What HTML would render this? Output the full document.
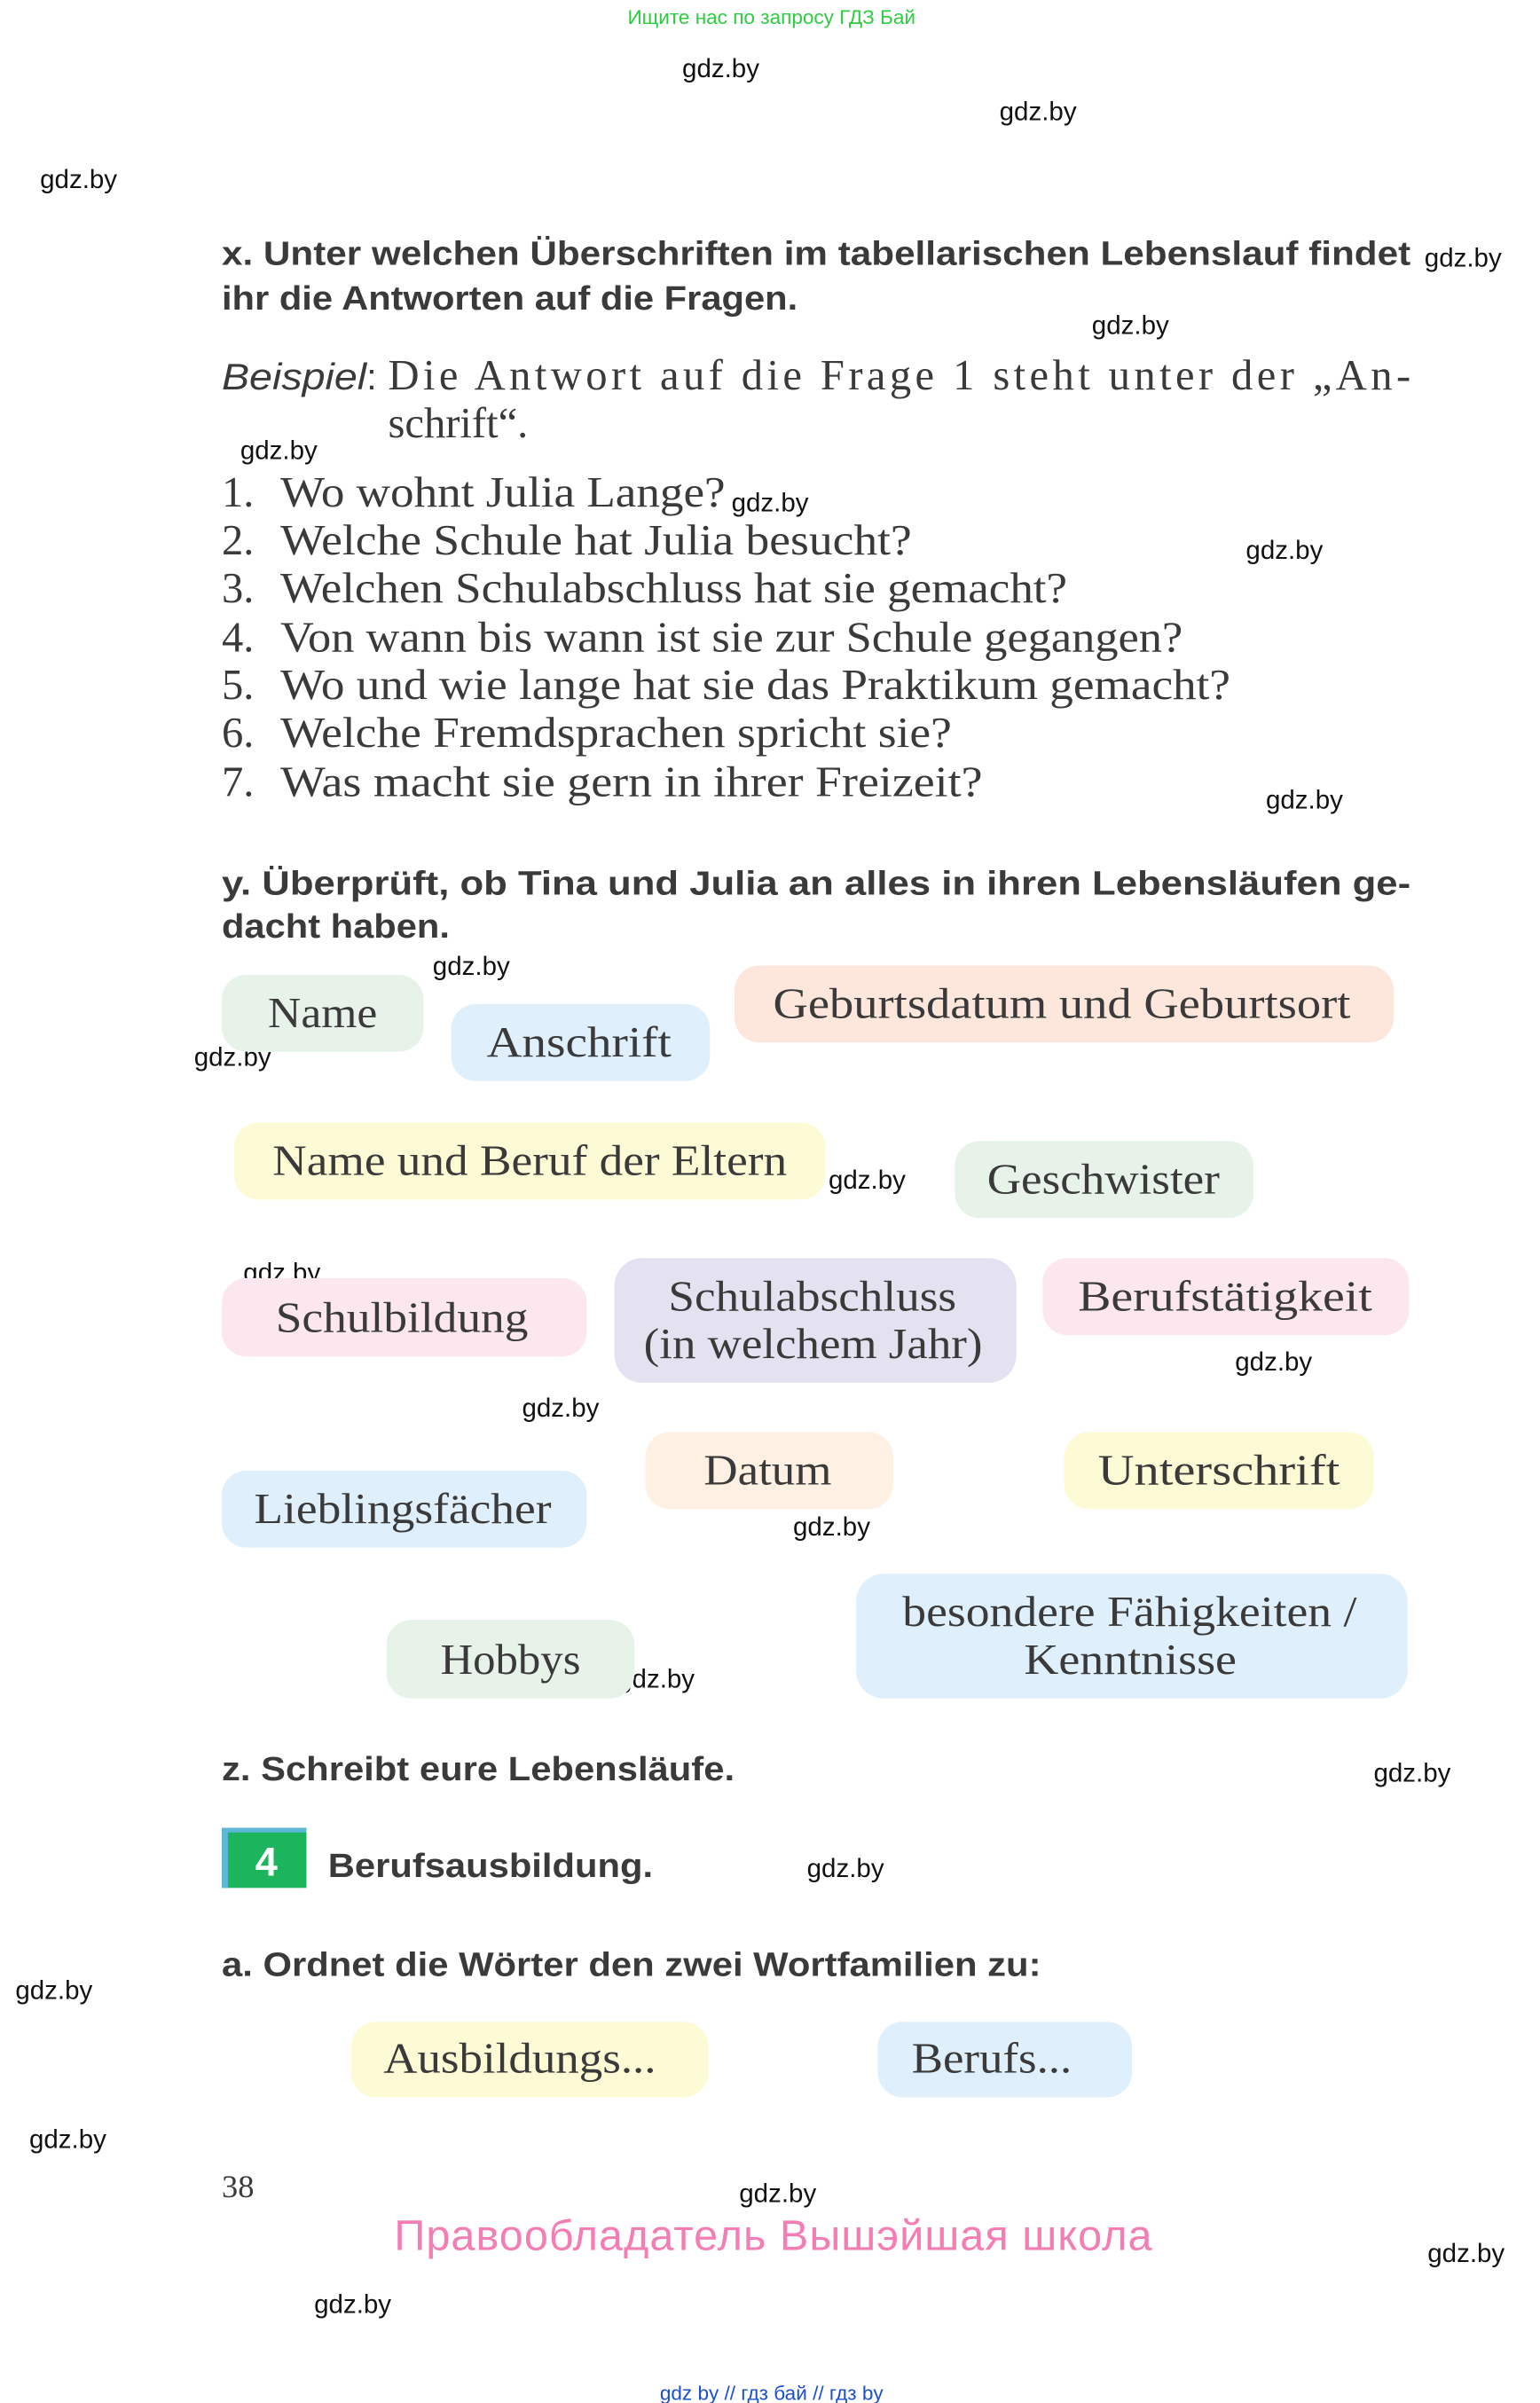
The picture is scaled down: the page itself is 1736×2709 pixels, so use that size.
<!DOCTYPE html>
<html><head><meta charset="utf-8"><style>html,body{margin:0;padding:0;background:#fff}svg{display:block}</style></head>
<body>
<svg width="1736" height="2709" viewBox="0 0 1000 1560.5" xmlns="http://www.w3.org/2000/svg">
<g font-family="Liberation Sans, sans-serif">
<text x="501" y="15.5" font-size="13" fill="#2ecc40" text-anchor="middle">Ищите нас по запросу ГДЗ Бай</text>
<text x="501" y="1558.5" font-size="13" fill="#1a4fd0" text-anchor="middle">gdz by  //  гдз бай  //  гдз by</text>
<text x="502" y="1461" font-size="28" fill="#f47db4" text-anchor="middle" textLength="492">Правообладатель Вышэйшая школа</text>
</g>
<g font-family="Liberation Sans, sans-serif" font-size="17" fill="#111">
<text x="443" y="50">gdz.by</text><text x="649" y="78">gdz.by</text><text x="26" y="122">gdz.by</text>
<text x="925" y="173">gdz.by</text><text x="709" y="217">gdz.by</text><text x="156" y="298">gdz.by</text>
<text x="475" y="332">gdz.by</text><text x="809" y="363">gdz.by</text><text x="822" y="525">gdz.by</text>
<text x="281" y="633">gdz.by</text><text x="126" y="692">gdz.by</text><text x="538" y="772">gdz.by</text>
<text x="158" y="832">gdz.by</text><text x="802" y="890">gdz.by</text><text x="339" y="920">gdz.by</text>
<text x="515" y="997">gdz.by</text><text x="401" y="1096">gdz.by</text><text x="892" y="1157">gdz.by</text>
<text x="524" y="1219">gdz.by</text><text x="10" y="1298">gdz.by</text><text x="19" y="1395">gdz.by</text>
<text x="480" y="1430">gdz.by</text><text x="927" y="1469">gdz.by</text><text x="204" y="1502">gdz.by</text>
</g>
<g font-family="Liberation Sans, sans-serif" font-weight="bold" font-size="22" fill="#3a3a3a">
<text x="144" y="172" textLength="772" lengthAdjust="spacingAndGlyphs">x. Unter welchen Überschriften im tabellarischen Lebenslauf findet</text>
<text x="144" y="201" textLength="374" lengthAdjust="spacingAndGlyphs">ihr die Antworten auf die Fragen.</text>
<text x="144" y="581" textLength="772" lengthAdjust="spacingAndGlyphs">y. Überprüft, ob Tina und Julia an alles in ihren Lebensläufen ge-</text>
<text x="144" y="609" textLength="148" lengthAdjust="spacingAndGlyphs">dacht haben.</text>
<text x="144" y="1156" textLength="333" lengthAdjust="spacingAndGlyphs">z. Schreibt eure Lebensläufe.</text>
<text x="213" y="1219" textLength="211" lengthAdjust="spacingAndGlyphs">Berufsausbildung.</text>
<text x="144" y="1283" textLength="532" lengthAdjust="spacingAndGlyphs">a. Ordnet die Wörter den zwei Wortfamilien zu:</text>
</g>
<rect x="144" y="1187" width="55" height="39" fill="#1db45e"/>
<rect x="144" y="1187" width="4" height="39" fill="#5fb7d8"/>
<rect x="144" y="1187" width="55" height="3" fill="#5fb7d8"/>
<text x="173" y="1218" font-family="Liberation Sans, sans-serif" font-weight="bold" font-size="26" fill="#fff" text-anchor="middle">4</text>
<text x="144" y="253" font-family="Liberation Sans, sans-serif" font-style="italic" font-size="24" fill="#3a3a3a" textLength="94" lengthAdjust="spacingAndGlyphs">Beispiel</text>
<text x="238" y="253" font-family="Liberation Sans, sans-serif" font-size="24" fill="#3a3a3a">:</text>
<g font-family="Liberation Serif, serif" font-size="28" fill="#3a3a3a">
<text x="252" y="253" textLength="664">Die Antwort auf die Frage 1 steht unter der „An-</text>
<text x="252" y="284">schrift“.</text>
<text x="144" y="329">1.</text><text x="182" y="329" textLength="289" lengthAdjust="spacingAndGlyphs">Wo wohnt Julia Lange?</text>
<text x="144" y="360">2.</text><text x="182" y="360" textLength="410" lengthAdjust="spacingAndGlyphs">Welche Schule hat Julia besucht?</text>
<text x="144" y="391">3.</text><text x="182" y="391" textLength="511" lengthAdjust="spacingAndGlyphs">Welchen Schulabschluss hat sie gemacht?</text>
<text x="144" y="423">4.</text><text x="182" y="423" textLength="586" lengthAdjust="spacingAndGlyphs">Von wann bis wann ist sie zur Schule gegangen?</text>
<text x="144" y="454">5.</text><text x="182" y="454" textLength="617" lengthAdjust="spacingAndGlyphs">Wo und wie lange hat sie das Praktikum gemacht?</text>
<text x="144" y="485">6.</text><text x="182" y="485" textLength="436" lengthAdjust="spacingAndGlyphs">Welche Fremdsprachen spricht sie?</text>
<text x="144" y="517">7.</text><text x="182" y="517" textLength="456" lengthAdjust="spacingAndGlyphs">Was macht sie gern in ihrer Freizeit?</text>
<text x="144" y="1427" font-size="21">38</text>
</g>
<g>
<rect x="144" y="633" width="131" height="50" rx="16" fill="#e7f3e9"/>
<rect x="293" y="652" width="168" height="50" rx="16" fill="#dfeffb"/>
<rect x="477" y="627" width="428" height="50" rx="16" fill="#fde6dc"/>
<rect x="152" y="729" width="384" height="50" rx="16" fill="#fdfad6"/>
<rect x="620" y="741" width="194" height="50" rx="16" fill="#e7f3e9"/>
<rect x="144" y="830" width="237" height="51" rx="16" fill="#fde7ef"/>
<rect x="399" y="817" width="261" height="81" rx="18" fill="#e4e2f0"/>
<rect x="677" y="817" width="238" height="50" rx="16" fill="#fde7ef"/>
<rect x="419" y="930" width="161" height="50" rx="16" fill="#fef0e3"/>
<rect x="691" y="930" width="201" height="50" rx="16" fill="#fdfad6"/>
<rect x="144" y="955" width="237" height="50" rx="16" fill="#dfeffb"/>
<rect x="251" y="1052" width="161" height="51" rx="16" fill="#e7f3e9"/>
<rect x="556" y="1022" width="358" height="81" rx="18" fill="#dfeffb"/>
<rect x="228" y="1313" width="232" height="49" rx="16" fill="#fdfad6"/>
<rect x="570" y="1313" width="165" height="49" rx="16" fill="#dfeffb"/>
</g>
<g font-family="Liberation Serif, serif" font-size="28" fill="#3a3a3a" lengthAdjust="spacingAndGlyphs">
<text x="174" y="667" textLength="71" lengthAdjust="spacingAndGlyphs">Name</text>
<text x="316" y="686" textLength="120" lengthAdjust="spacingAndGlyphs">Anschrift</text>
<text x="502" y="661" textLength="375" lengthAdjust="spacingAndGlyphs">Geburtsdatum und Geburtsort</text>
<text x="177" y="763" textLength="334" lengthAdjust="spacingAndGlyphs">Name und Beruf der Eltern</text>
<text x="641" y="775" textLength="151" lengthAdjust="spacingAndGlyphs">Geschwister</text>
<text x="179" y="865" textLength="164" lengthAdjust="spacingAndGlyphs">Schulbildung</text>
<text x="434" y="851" textLength="187" lengthAdjust="spacingAndGlyphs">Schulabschluss</text>
<text x="418" y="882" textLength="220" lengthAdjust="spacingAndGlyphs">(in welchem Jahr)</text>
<text x="700" y="851" textLength="191" lengthAdjust="spacingAndGlyphs">Berufstätigkeit</text>
<text x="457" y="964" textLength="83" lengthAdjust="spacingAndGlyphs">Datum</text>
<text x="713" y="964" textLength="157" lengthAdjust="spacingAndGlyphs">Unterschrift</text>
<text x="165" y="989" textLength="193" lengthAdjust="spacingAndGlyphs">Lieblingsfächer</text>
<text x="286" y="1087" textLength="91" lengthAdjust="spacingAndGlyphs">Hobbys</text>
<text x="586" y="1056" textLength="295" lengthAdjust="spacingAndGlyphs">besondere Fähigkeiten /</text>
<text x="665" y="1087" textLength="138" lengthAdjust="spacingAndGlyphs">Kenntnisse</text>
<text x="249" y="1346" textLength="177" lengthAdjust="spacingAndGlyphs">Ausbildungs...</text>
<text x="592" y="1346" textLength="104" lengthAdjust="spacingAndGlyphs">Berufs...</text>
</g>
</svg>
</body></html>
